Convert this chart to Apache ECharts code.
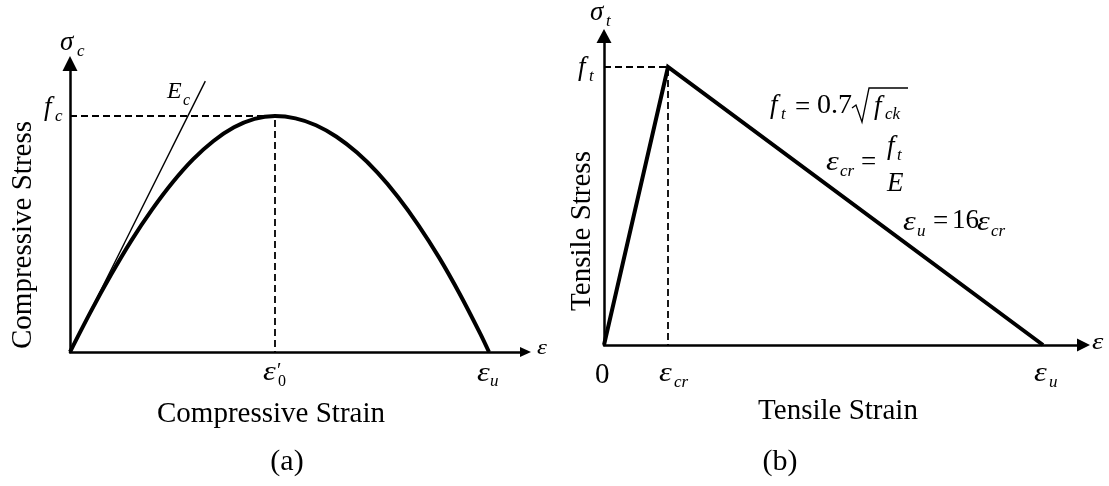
<!DOCTYPE html>
<html>
<head>
<meta charset="utf-8">
<script src="https://cdn.jsdelivr.net/npm/echarts@6/dist/echarts.min.js"></script>
<style>
  html, body { margin: 0; padding: 0; background: #fff; }
  #chart { width: 1109px; height: 486px; }
</style>
</head>
<body>
<div id="chart"></div>
<script>
// (a) Compressive branch: strain in units of ε′0, stress in units of f_c
const compStrain = [0, 0.1, 0.2, 0.3, 0.4, 0.5, 0.6, 0.7, 0.8, 0.9, 1.0, 1.1, 1.2, 1.3, 1.4, 1.5, 1.6, 1.7, 1.8, 1.9, 2.0, 2.044];
const compStress = [0, 0.169, 0.327, 0.473, 0.603, 0.718, 0.816, 0.894, 0.952, 0.988, 1.0, 0.990, 0.961, 0.912, 0.845, 0.760, 0.657, 0.537, 0.401, 0.248, 0.080, 0];
// Initial tangent (E_c)
const tangentStrain = [0, 0.66];
const tangentStress = [0, 1.148];
// (b) Tensile branch: strain in units of ε_cr, stress in units of f_t
const tensStrain = [0, 1, 6.86];
const tensStress = [0, 1, 0];
// Axis extents (the arrow heads sit at the ends)
const compStrainMax = 2.222, compStressMax = 1.2225;
const tensStrainMax = 7.492, tensStressMax = 1.1115;

const FONT = '"Liberation Serif", "Times New Roman", serif';
const zip = (xs, ys) => xs.map((x, i) => [x, ys[i]]);
const peakOf = (xs, ys) => { let k = 0; ys.forEach((v, i) => { if (v > ys[k]) k = i; }); return [xs[k], ys[k]]; };

const compPeak = peakOf(compStrain, compStress);
const tensPeak = peakOf(tensStrain, tensStress);
const compUlt = compStrain[compStrain.length - 1];
const tensUlt = tensStrain[tensStrain.length - 1];

function axisOf(grid, max, arrow) {
  return {
    gridIndex: grid, type: 'value', min: 0, max: max,
    axisLine: { show: true, onZero: false, symbol: ['none', 'triangle'], symbolSize: arrow,
                lineStyle: { color: '#000', width: 2.5 } },
    axisTick: { show: false }, axisLabel: { show: false }, splitLine: { show: false }
  };
}

const solid = (w) => ({ color: '#000', width: w, join: 'miter', miterLimit: 10 });
const dashed = { color: '#000', width: 1.8, type: [7, 4] };

const chart = echarts.init(document.getElementById('chart'), null, { renderer: 'canvas' });
chart.setOption({
  animation: false,
  backgroundColor: '#fff',
  grid: [
    { left: 70, top: 63.5, width: 455.5, height: 288.5 },
    { left: 604, top: 36, width: 479.5, height: 309 }
  ],
  xAxis: [axisOf(0, compStrainMax, [10, 11]), axisOf(1, tensStrainMax, [13, 13])],
  yAxis: [axisOf(0, compStressMax, [15, 15]), axisOf(1, tensStressMax, [15, 14])],
  series: [
    { type: 'line', xAxisIndex: 0, yAxisIndex: 0, z: 1, showSymbol: false, clip: false, silent: true,
      data: [[0, compPeak[1]], compPeak, [compPeak[0], 0]], lineStyle: dashed },
    { type: 'line', xAxisIndex: 0, yAxisIndex: 0, z: 2, showSymbol: false, clip: false, silent: true,
      data: zip(tangentStrain, tangentStress), lineStyle: solid(1.4) },
    { type: 'line', xAxisIndex: 0, yAxisIndex: 0, z: 3, showSymbol: false, clip: false, silent: true,
      smooth: 0.3, data: zip(compStrain, compStress), lineStyle: solid(4) },
    { type: 'line', xAxisIndex: 1, yAxisIndex: 1, z: 1, showSymbol: false, clip: false, silent: true,
      data: [[0, tensPeak[1]], tensPeak, [tensPeak[0], 0]], lineStyle: dashed },
    { type: 'line', xAxisIndex: 1, yAxisIndex: 1, z: 3, showSymbol: false, clip: false, silent: true,
      data: zip(tensStrain, tensStress), lineStyle: solid(4) }
  ]
});

// Text placed by left edge and baseline
function t(str, x, base, size, italic, extra) {
  return Object.assign({
    type: 'text', x: x, y: base - 0.3375 * size, silent: true, z: 100,
    style: { text: str, fontSize: size, fontFamily: FONT, fontStyle: italic === false ? 'normal' : 'italic',
             fill: '#000', align: 'left', verticalAlign: 'middle', textAlign: 'left', textVerticalAlign: 'middle' }
  }, extra || {});
}
// Wide italic epsilon
const eps = (x, base, size) => t('ε', x, base, size || 27, true, { scaleX: 1.2 });
function title(str, cx, cy, size, rot) {
  return {
    type: 'text', x: cx, y: cy, rotation: rot || 0, silent: true, z: 100,
    style: { text: str, fontSize: size, fontFamily: FONT, fill: '#000',
             align: 'center', verticalAlign: 'middle', textAlign: 'center', textVerticalAlign: 'middle' }
  };
}

const px = (g, v) => chart.convertToPixel({ gridIndex: g }, v);
const o0 = px(0, [0, 0]);
const c0 = px(0, [compPeak[0], 0]);
const cu = px(0, [compUlt, 0]);
const cf = px(0, [0, compPeak[1]]);
const o1 = px(1, [0, 0]);
const tc = px(1, [tensPeak[0], 0]);
const tu = px(1, [tensUlt, 0]);
const tf = px(1, [0, tensPeak[1]]);

const labels = [
  // (a) axis symbols
  t('σ', 60, 52, 27), t('c', 77, 57, 17),
  t('f', cf[0] - 26, cf[1] + 1, 27), t('c', cf[0] - 15, cf[1] + 6, 17),
  t('E', 167, 100, 24), t('c', 183, 106, 16),
  eps(c0[0] - 12, c0[1] + 30), t('′', c0[0] + 2, c0[1] + 26, 20, false), t('0', c0[0] + 3, c0[1] + 35, 16, false),
  eps(cu[0] - 12, cu[1] + 31), t('u', cu[0] + 1, cu[1] + 35, 17),
  eps(o0[0] + 467, o0[1] + 4, 21),
  title('Compressive Stress', 23, 235, 29, Math.PI / 2),
  title('Compressive Strain', 271, 414, 29),
  title('(a)', 287, 462, 30),

  // (b) axis symbols
  t('σ', 590, 22, 27), t('t', 606, 27, 17),
  t('f', tf[0] - 26, tf[1] + 10, 27), t('t', tf[0] - 15, tf[1] + 15, 17),
  t('0', o1[0] - 9, o1[1] + 40, 29, false),
  eps(tc[0] - 9, tc[1] + 38), t('cr', tc[0] + 6, tc[1] + 43, 17),
  eps(tu[0] - 9, tu[1] + 38), t('u', tu[0] + 6, tu[1] + 43, 17),
  eps(o1[0] + 488, o1[1] + 6, 24),
  title('Tensile Stress', 582, 231, 29, Math.PI / 2),
  title('Tensile Strain', 838, 411, 29),
  title('(b)', 780, 462, 30),

  // f_t = 0.7 √f_ck
  t('f', 770, 115, 27), t('t', 781, 120, 17),
  t('=', 795, 117, 27, false), t('0.7', 817, 115, 28, false),
  { type: 'polyline', silent: true, z: 100,
    shape: { points: [[852, 108], [856, 105], [862, 122], [869, 88], [908, 88]] },
    style: { stroke: '#000', lineWidth: 1.3, fill: null } },
  t('f', 874, 116, 27), t('ck', 885, 120, 17),

  // ε_cr = f_t / E
  eps(826, 172), t('cr', 840, 177, 17),
  t('=', 861, 172, 27, false),
  t('f', 887, 156, 27), t('t', 897, 161, 17),
  t('E', 887, 193, 27),

  // ε_u = 16 ε_cr
  eps(903, 232), t('u', 917, 237, 17),
  t('=', 933, 231, 27, false), t('16', 952, 230, 27, false),
  eps(977, 232), t('cr', 991, 237, 17)
];

chart.setOption({ graphic: labels });
</script>
</body>
</html>
